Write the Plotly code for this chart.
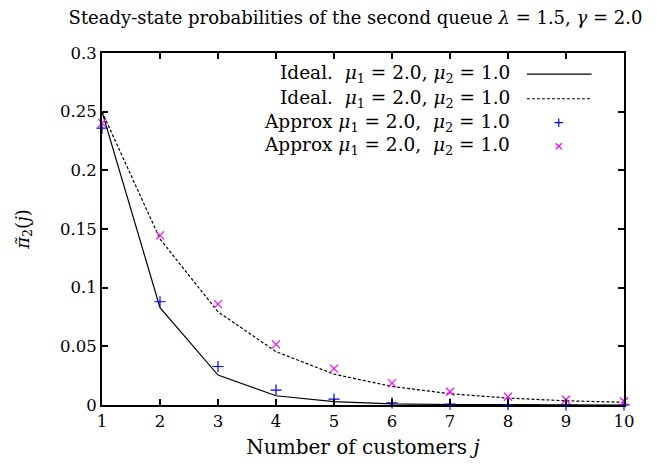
import plotly.graph_objects as go

# ---- data ----
customers = [1, 2, 3, 4, 5, 6, 7, 8, 9, 10]
ideal_a = [0.25, 0.083, 0.0255, 0.0079, 0.0028, 0.0010, 0.0004, 0.00015, 0.00005, 0.00002]
ideal_b = [0.25, 0.1415, 0.0794, 0.0455, 0.0263, 0.0158, 0.0096, 0.0059, 0.0036, 0.0023]
approx_a = [0.236, 0.088, 0.0328, 0.0127, 0.0050, 0.0018, 0.0007, 0.0003, 0.0001, 0.00005]
approx_b = [0.2405, 0.1445, 0.086, 0.0517, 0.031, 0.0186, 0.0113, 0.0070, 0.0045, 0.0030]

x_ticks = [1, 2, 3, 4, 5, 6, 7, 8, 9, 10]
y_ticks = [0, 0.05, 0.1, 0.15, 0.2, 0.25, 0.3]
y_tick_labels = ["0", "0.05", "0.1", "0.15", "0.2", "0.25", "0.3"]

legend_labels = [
    "Ideal.  <i>μ</i><sub>1</sub> = 2.0, <i>μ</i><sub>2</sub> = 1.0",
    "Ideal.  <i>μ</i><sub>1</sub> = 2.0, <i>μ</i><sub>2</sub> = 1.0",
    "Approx <i>μ</i><sub>1</sub> = 2.0,  <i>μ</i><sub>2</sub> = 1.0",
    "Approx <i>μ</i><sub>1</sub> = 2.0,  <i>μ</i><sub>2</sub> = 1.0",
]
title_text = "Steady-state probabilities of the second queue <i>λ</i> = 1.5, <i>γ</i> = 2.0"
x_title = "Number of customers <i>j</i>"
y_title = "<i>π̃</i><sub>2</sub>(<i>j</i>)"

FONT = "DejaVu Serif"
BLUE = "#0000ff"
MAGENTA = "#ff00ff"

fig = go.Figure()

fig.add_trace(go.Scatter(x=customers, y=ideal_a, mode="lines",
                         line=dict(color="black", width=1.2), showlegend=False))
fig.add_trace(go.Scatter(x=customers, y=ideal_b, mode="lines",
                         line=dict(color="black", width=1.2, dash="3px,2px"), showlegend=False))
fig.add_trace(go.Scatter(x=customers, y=approx_a, mode="markers", cliponaxis=False,
                         marker=dict(symbol="cross-thin", size=8, line=dict(color=BLUE, width=1.2)),
                         showlegend=False))
fig.add_trace(go.Scatter(x=customers, y=approx_b, mode="markers", cliponaxis=False,
                         marker=dict(symbol="x-thin", size=8, line=dict(color=MAGENTA, width=1.2)),
                         showlegend=False))

# ---- custom gnuplot-style legend (text left, sample right) on an auxiliary 0..1 axis ----
row_y = [0.94, 0.87, 0.802, 0.735]
sample_x0, sample_x1 = 0.814, 0.938
sample_mid = 0.875
fig.add_trace(go.Scatter(x=[sample_x0, sample_x1], y=[row_y[0]] * 2, mode="lines",
                         line=dict(color="black", width=1.2), xaxis="x2", yaxis="y2",
                         showlegend=False, hoverinfo="skip"))
fig.add_trace(go.Scatter(x=[sample_x0, sample_x1], y=[row_y[1]] * 2, mode="lines",
                         line=dict(color="black", width=1.2, dash="3px,2px"), xaxis="x2", yaxis="y2",
                         showlegend=False, hoverinfo="skip"))
fig.add_trace(go.Scatter(x=[sample_mid], y=[row_y[2]], mode="markers",
                         marker=dict(symbol="cross-thin", size=6, line=dict(color=BLUE, width=1.2)),
                         xaxis="x2", yaxis="y2", showlegend=False, hoverinfo="skip"))
fig.add_trace(go.Scatter(x=[sample_mid], y=[row_y[3]], mode="markers",
                         marker=dict(symbol="x-thin", size=6, line=dict(color=MAGENTA, width=1.2)),
                         xaxis="x2", yaxis="y2", showlegend=False, hoverinfo="skip"))

annotations = []
for lbl, yy in zip(legend_labels, row_y):
    annotations.append(dict(x=0.785, y=yy, xref="paper", yref="paper", text=lbl,
                            showarrow=False, xanchor="right", yanchor="middle",
                            font=dict(family=FONT, size=18.5, color="black")))

fig.update_layout(
    width=667, height=474,
    margin=dict(l=102, r=43, t=53, b=69),
    paper_bgcolor="white", plot_bgcolor="white",
    font=dict(family=FONT, size=16, color="black"),
    title=dict(text=title_text, x=0.533, xanchor="center", y=0.963, yanchor="middle",
               font=dict(family=FONT, size=18, color="black")),
    xaxis=dict(range=[1, 10], tickvals=x_ticks, ticktext=[str(v) for v in x_ticks],
               ticks="inside", ticklen=6, tickwidth=1.5, tickcolor="black",
               showline=True, linewidth=2, linecolor="black", mirror="ticks",
               showgrid=False, zeroline=False,
               title=dict(text=x_title, standoff=10, font=dict(family=FONT, size=20)),
               tickfont=dict(family=FONT, size=16.5)),
    yaxis=dict(range=[0, 0.3], tickvals=y_ticks, ticktext=y_tick_labels,
               ticks="inside", ticklen=6, tickwidth=1.5, tickcolor="black",
               showline=True, linewidth=2, linecolor="black", mirror="ticks",
               showgrid=False, zeroline=False,
               title=dict(text=y_title, standoff=26, font=dict(family=FONT, size=18)),
               tickfont=dict(family=FONT, size=16.5)),
    xaxis2=dict(range=[0, 1], overlaying="x", visible=False, fixedrange=True),
    yaxis2=dict(range=[0, 1], overlaying="y", visible=False, fixedrange=True),
    annotations=annotations,
    showlegend=False,
)

fig.write_html("out.html")
